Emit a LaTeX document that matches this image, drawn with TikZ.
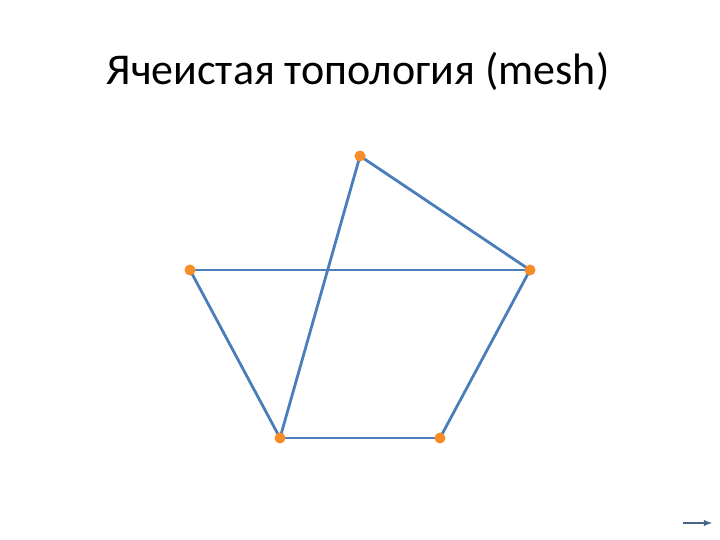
\documentclass[tikz,border=0pt]{standalone}
\usepackage{fontspec}
\setmainfont{Carlito}
\usepackage{tikz}
\usetikzlibrary{backgrounds}
\definecolor{meshblue}{RGB}{74,126,187}
\definecolor{meshorange}{RGB}{247,140,40}
\definecolor{navgray}{RGB}{70,100,140}
\tikzset{
  hostdot/.style={circle, fill=meshorange, inner sep=0pt, minimum size=11pt},
  link/.style={meshblue, line width=2.8pt}
}

\begin{document}
\begin{tikzpicture}[x=1pt, y=-1pt]
\useasboundingbox (0,0) rectangle (720,540);

\node [anchor=base] (title) at (358,85){\fontsize{44}{50}\selectfont Ячеистая топология (mesh)};

% hosts
\node [hostdot] (top) at (360,156){};
\node [hostdot] (right) at (530,270){};
\node [hostdot] (left) at (190,270){};
\node [hostdot] (botl) at (280,438){};
\node [hostdot] (botr) at (440,438){};

% links
\begin{scope}[on background layer]
\draw [link](top.center) -- (right.center);
\draw [link](top.center) -- (botl.center);
\draw [link](left.center) -- (right.center);
\draw [link](left.center) -- (botl.center);
\draw [link](botl.center) -- (botr.center);
\draw [link](botr.center) -- (right.center);
\end{scope}

% navigation arrow
\coordinate (navA) at (683,523);
\coordinate (navB) at (712,523);
\draw [navgray, line width=1.8pt, -latex](navA) -- (navB);
\end{tikzpicture}
\end{document}
